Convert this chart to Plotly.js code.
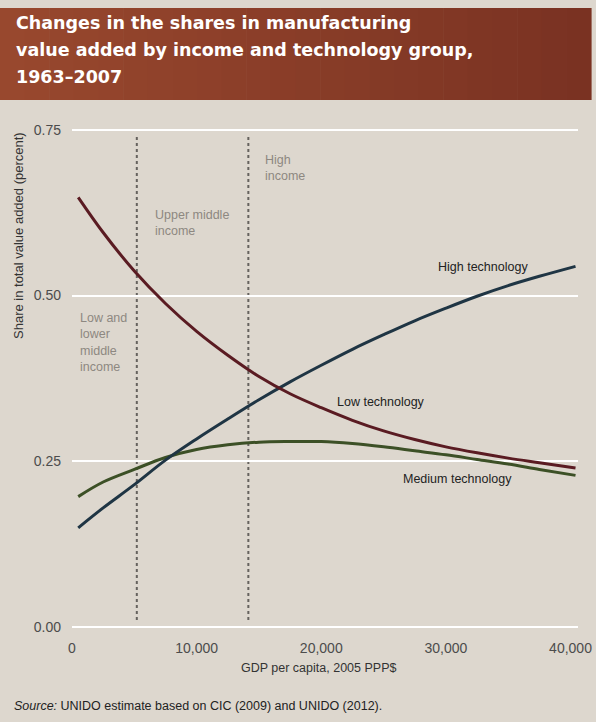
<!DOCTYPE html>
<html>
<head>
<meta charset="utf-8">
<script src="https://cdn.plot.ly/plotly-3.0.1.min.js"></script>
<style>
  html, body { margin: 0; padding: 0; background: #ddd7ce; }
  #chart { width: 596px; height: 722px; }
</style>
</head>
<body>
<div id="chart"></div>
<script>
// ---- Data ----
const gdpPerCapita = [500, 2500, 5000, 7500, 10000, 12500, 15000, 17500, 20000, 22500, 25000, 27500, 30000, 32500, 35000, 37500, 40400];
const lowTech    = [0.648, 0.595, 0.537, 0.488, 0.446, 0.410, 0.378, 0.352, 0.331, 0.312, 0.296, 0.283, 0.272, 0.263, 0.255, 0.248, 0.240];
const mediumTech = [0.197, 0.219, 0.238, 0.256, 0.268, 0.275, 0.279, 0.280, 0.280, 0.277, 0.272, 0.266, 0.260, 0.253, 0.246, 0.238, 0.229];
const highTech   = [0.150, 0.180, 0.215, 0.252, 0.284, 0.314, 0.343, 0.370, 0.395, 0.419, 0.441, 0.462, 0.481, 0.499, 0.515, 0.529, 0.544];
const seriesNames = ["Low technology", "Medium technology", "High technology"];
const incomeThresholds = [5200, 14150];
const incomeGroups = ["Low and<br>lower<br>middle<br>income", "Upper middle<br>income", "High<br>income"];
const yTicks = [0, 0.25, 0.5, 0.75];
const xTicks = [0, 10000, 20000, 30000, 40000];
const titleLines = ["Changes in the shares in manufacturing", "value added by income and technology group,", "1963\u20132007"];

// ---- Layout geometry ----
const W = 596, H = 722;
const M = {l: 72, r: 18, t: 127, b: 92};
const plotW = W - M.l - M.r, plotH = H - M.t - M.b;
const px = x => (x - M.l) / plotW;          // pixel -> paper x
const py = y => (H - M.b - y) / plotH;      // pixel -> paper y

const FONT = "Liberation Sans, Arial, sans-serif";

const mk = (y, name, color) => ({
  x: gdpPerCapita, y: y, name: name, type: "scatter", mode: "lines",
  line: {color: color, width: 3, shape: "spline", smoothing: 1},
  hoverinfo: "skip", showlegend: false
});

const data = [
  mk(mediumTech, seriesNames[1], "#3c5026"),
  mk(highTech, seriesNames[2], "#1f3544"),
  mk(lowTech, seriesNames[0], "#5a1b22")
];

const grey = "#8d8881";
const annotations = [
  ...titleLines.map((t, i) => ({
    xref: "paper", yref: "paper", x: px(14), y: py([23, 50, 77][i]),
    xanchor: "left", yanchor: "middle", showarrow: false,
    text: "<b>" + t + "</b>",
    font: {family: "DejaVu Sans, sans-serif", size: 17.5, color: "#ffffff"}
  })),
  {xref: "paper", yref: "paper", x: px(78), y: py(342), xanchor: "left", yanchor: "middle", align: "left",
   showarrow: false, text: incomeGroups[0], font: {family: FONT, size: 12.5, color: grey}},
  {xref: "paper", yref: "paper", x: px(153), y: py(223), xanchor: "left", yanchor: "middle", align: "left",
   showarrow: false, text: incomeGroups[1], font: {family: FONT, size: 12.5, color: grey}},
  {xref: "paper", yref: "paper", x: px(263), y: py(168), xanchor: "left", yanchor: "middle", align: "left",
   showarrow: false, text: incomeGroups[2], font: {family: FONT, size: 12.5, color: grey}},
  {xref: "paper", yref: "paper", x: px(436), y: py(267), xanchor: "left", yanchor: "middle",
   showarrow: false, text: seriesNames[2], font: {family: FONT, size: 12.5, color: "#222"}},
  {xref: "paper", yref: "paper", x: px(335), y: py(402), xanchor: "left", yanchor: "middle",
   showarrow: false, text: seriesNames[0], font: {family: FONT, size: 12.5, color: "#222"}},
  {xref: "paper", yref: "paper", x: px(401), y: py(479), xanchor: "left", yanchor: "middle",
   showarrow: false, text: seriesNames[1], font: {family: FONT, size: 12.5, color: "#222"}},
  {xref: "paper", yref: "paper", x: px(18), y: py(236), xanchor: "center", yanchor: "middle", textangle: -90,
   showarrow: false, text: "Share in total value added (percent)", font: {family: FONT, size: 13, color: "#333"}},
  {xref: "paper", yref: "paper", x: px(318), y: py(668), xanchor: "center", yanchor: "middle",
   showarrow: false, text: "GDP per capita, 2005 PPP$", font: {family: FONT, size: 12.5, color: "#333"}},
  {xref: "paper", yref: "paper", x: px(12), y: py(706), xanchor: "left", yanchor: "middle",
   showarrow: false, text: "<i>Source:</i> UNIDO estimate based on CIC (2009) and UNIDO (2012).",
   font: {family: FONT, size: 12.5, color: "#222"}}
];

// title band with a gentle left-to-right darkening
const bandShapes = [];
const strips = 24, bandL = 0, bandR = 591;
for (let i = 0; i < strips; i++) {
  const t = i / (strips - 1);
  const r = Math.round(152 - 30 * t), g = Math.round(72 - 22 * t), b = Math.round(46 - 12 * t);
  bandShapes.push({
    type: "rect", xref: "paper", yref: "paper",
    x0: px(bandL + (bandR - bandL) * i / strips), x1: px(bandL + (bandR - bandL) * (i + 1) / strips + 0.6),
    y0: py(8), y1: py(100), fillcolor: `rgb(${r},${g},${b})`, line: {width: 0}, layer: "below"
  });
}

const shapes = [
  ...bandShapes,
  ...incomeThresholds.map(v => ({
    type: "line", xref: "x", yref: "paper", x0: v, x1: v, y0: py(620), y1: py(134),
    line: {color: "#66625e", width: 2, dash: "dot"}, layer: "below"
  }))
];

const layout = {
  width: W, height: H,
  margin: M,
  paper_bgcolor: "#ddd7ce",
  plot_bgcolor: "#ddd7ce",
  font: {family: FONT, size: 14, color: "#505050"},
  xaxis: {
    range: [0, 40600], tickvals: xTicks, tickformat: ",d",
    showgrid: false, zeroline: false, showline: false, ticks: "",
    ticklabelstandoff: 8, fixedrange: true,
    tickfont: {family: FONT, size: 14, color: "#4c4c4c"}
  },
  yaxis: {
    range: [-0.004, 0.754], tickvals: yTicks, tickformat: ".2f",
    showgrid: true, gridcolor: "#ffffff", gridwidth: 2,
    zeroline: false, showline: false, ticks: "",
    ticklabelstandoff: 10, fixedrange: true,
    tickfont: {family: FONT, size: 14, color: "#4c4c4c"}
  },
  annotations: annotations,
  shapes: shapes,
  showlegend: false
};

Plotly.newPlot("chart", data, layout, {displayModeBar: false, staticPlot: true});
</script>
</body>
</html>
